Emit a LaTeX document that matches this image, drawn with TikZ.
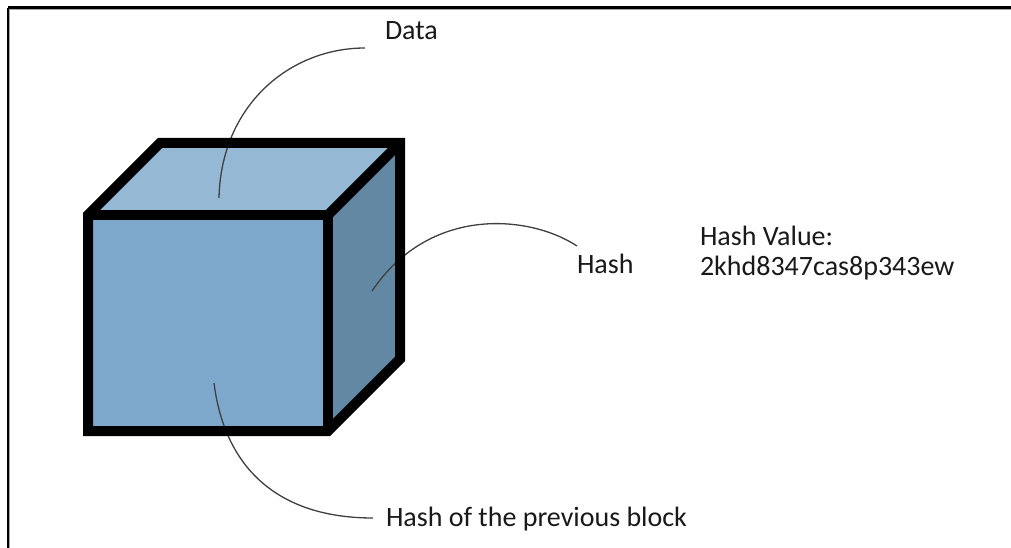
\documentclass[tikz,border=0pt]{standalone}
\usepackage{fontspec}
\setmainfont{Carlito}
\begin{document}
\begin{tikzpicture}[x=1pt,y=-1pt,
  lbl/.style={anchor=base west,inner sep=0pt,outer sep=0pt,font=\fontsize{28}{30}\selectfont,text=black!90},
  edge/.style={line width=10pt,line join=miter,draw=black},
  leader/.style={draw=black!75,line width=1.3pt}]
\definecolor{frontface}{HTML}{7EA8CB}
\definecolor{topface}{HTML}{95B9D5}
\definecolor{sideface}{HTML}{6388A3}
\useasboundingbox (0,0) rectangle (1011,548);
\fill[white] (0,0) rectangle (1011,548);
% page frame
\draw[black!35,line width=1.2pt] (9.5,9.5) -- (1011,9.5);
\draw[black!35,line width=1.2pt] (9.5,9.5) -- (9.5,548);
\draw[black,line width=2.4pt] (7.7,7.7) -- (1011,7.7);
\draw[black,line width=2.4pt] (7.7,7.7) -- (7.7,548);
% cube corners
\coordinate (A) at (88,215);
\coordinate (B) at (328,215);
\coordinate (C) at (328,431);
\coordinate (D) at (88,431);
\coordinate (Ab) at (160,143);
\coordinate (Bb) at (400,143);
\coordinate (Cb) at (400,359);
% faces
\fill[frontface] (A) -- (B) -- (C) -- (D) -- cycle;
\fill[topface] (A) -- (B) -- (Bb) -- (Ab) -- cycle;
\fill[sideface] (B) -- (Bb) -- (Cb) -- (C) -- cycle;
% labels
\node[lbl] (data) at (385,40) {Data};
\node[lbl] (hash) at (577,273) {Hash};
\node[lbl] (hv1) at (700,245) {Hash Value:};
\node[lbl] (hv2) at (700,275) {2khd8347cas8p343ew};
\node[lbl] (prev) at (386,526.5) {Hash of the previous block};
% leader end points
\coordinate (pdata) at (219,198);
\coordinate (edata) at (365,48);
\coordinate (phash) at (372,291);
\coordinate (ehash) at (577,246);
\coordinate (pprev) at (214,383);
\coordinate (eprev) at (373,518);
% leader lines
\draw[leader] (pdata) .. controls (221,105) and (290,48) .. (edata);
\draw[leader] (phash) .. controls (430,205) and (530,215) .. (ehash);
\draw[leader] (pprev) .. controls (225,470) and (280,518) .. (eprev);
% cube edges
\draw[edge] (A) -- (Ab) -- (Bb) -- (Cb) -- (C) -- (D) -- cycle;
\draw[edge] (A) -- (B) -- (C);
\draw[edge] (B) -- (Bb);
\end{tikzpicture}
\end{document}
